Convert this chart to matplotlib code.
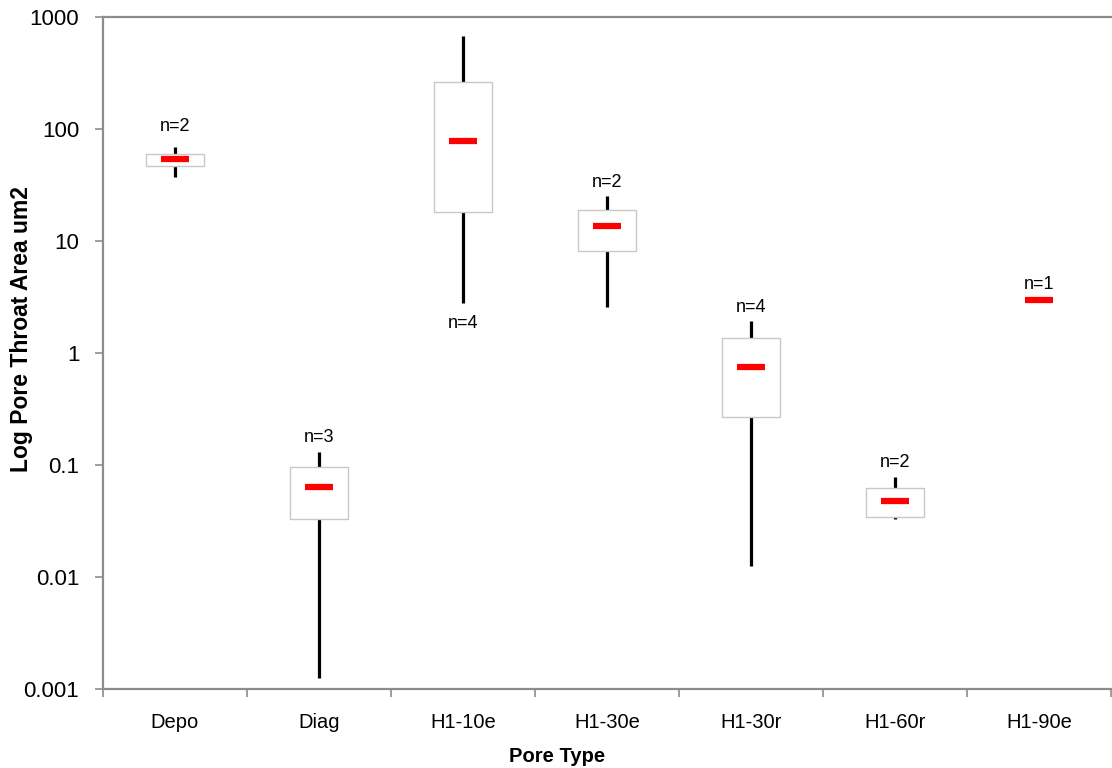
import matplotlib
matplotlib.use("Agg")
import matplotlib.pyplot as plt
import numpy as np
from matplotlib.ticker import FixedLocator, FixedFormatter, NullLocator

plt.rcParams['font.family'] = ['Liberation Sans', 'DejaVu Sans']

pore_types = ['Depo', 'Diag', 'H1-10e', 'H1-30e', 'H1-30r', 'H1-60r', 'H1-90e']
whisker_hi = [68.7, 0.131, 676, 25.1, 1.91, 0.0784, None]
box_hi = [59.5, 0.095, 262, 18.8, 1.35, 0.0625, None]
medians = [53.7, 0.0638, 77.8, 13.5, 0.755, 0.0479, 3.0]
box_lo = [46.5, 0.033, 18.0, 8.07, 0.27, 0.0344, None]
whisker_lo = [37.0, 0.00125, 2.82, 2.55, 0.0125, 0.033, None]
counts = [2, 3, 4, 2, 4, 2, 1]

yticks = [0.001, 0.01, 0.1, 1, 10, 100, 1000]
ytick_labels = ['0.001', '0.01', '0.1', '1', '10', '100', '1000']

grey = '#8c8c8c'

fig = plt.figure(figsize=(11.12, 7.68), dpi=100)
ax = fig.add_axes([0.0926, 0.1029, 0.9065, 0.875])
ax.set_yscale('log')

x = np.arange(len(pore_types))
box_w = 0.4
med_w = 0.195

for i in x:
    if box_hi[i] is not None:
        ax.vlines(i, box_hi[i], whisker_hi[i], color='black', lw=2.3, zorder=2)
        ax.vlines(i, whisker_lo[i], box_lo[i], color='black', lw=2.3, zorder=2)
        ax.bar(i, box_hi[i] - box_lo[i], bottom=box_lo[i], width=box_w,
               facecolor='white', edgecolor='#c8c8c8', lw=1.0, zorder=3)
    ax.hlines(medians[i], i - med_w / 2, i + med_w / 2, color='#ff0000',
              lw=4.5, zorder=4)

    # sample size labels
    lbl = 'n=%d' % counts[i]
    if pore_types[i] == 'H1-10e':
        ax.annotate(lbl, (i, whisker_lo[i]), xytext=(0, -9), textcoords='offset points',
                    ha='center', va='top', fontsize=13)
    elif whisker_hi[i] is None:
        ax.annotate(lbl, (i, medians[i]), xytext=(0, 5), textcoords='offset points',
                    ha='center', va='bottom', fontsize=13)
    else:
        off = 9 if pore_types[i] == 'Depo' else 4
        ax.annotate(lbl, (i, whisker_hi[i]), xytext=(0, off), textcoords='offset points',
                    ha='center', va='bottom', fontsize=13)

ax.set_xlim(-0.5, len(pore_types) - 0.5)
ax.set_ylim(0.001, 1000)

ax.yaxis.set_major_locator(FixedLocator(yticks))
ax.yaxis.set_major_formatter(FixedFormatter(ytick_labels))
ax.yaxis.set_minor_locator(NullLocator())

ax.set_xticks(np.arange(-0.5, len(pore_types), 1.0))
ax.set_xticklabels([])
ax.set_xticks(x, minor=True)
ax.set_xticklabels(pore_types, minor=True)
ax.tick_params(axis='x', which='major', length=6, width=1.2, color=grey, direction='out')
ax.tick_params(axis='x', which='minor', length=0, pad=17, labelsize=14.5)
ax.tick_params(axis='y', which='major', length=6, width=1.2, color=grey, pad=11, labelsize=16)

for side in ['left', 'bottom', 'top']:
    ax.spines[side].set_color(grey)
    ax.spines[side].set_linewidth(1.6)
ax.spines['right'].set_visible(False)

ax.set_xlabel('Pore Type', fontsize=14.5, fontweight='bold')
ax.set_ylabel('Log Pore Throat Area um2', fontsize=16.5, fontweight='bold')
ax.xaxis.set_label_coords(0.45, -0.086)
ax.yaxis.set_label_coords(-0.069, 0.536)

fig.savefig('out.png', dpi=100)
